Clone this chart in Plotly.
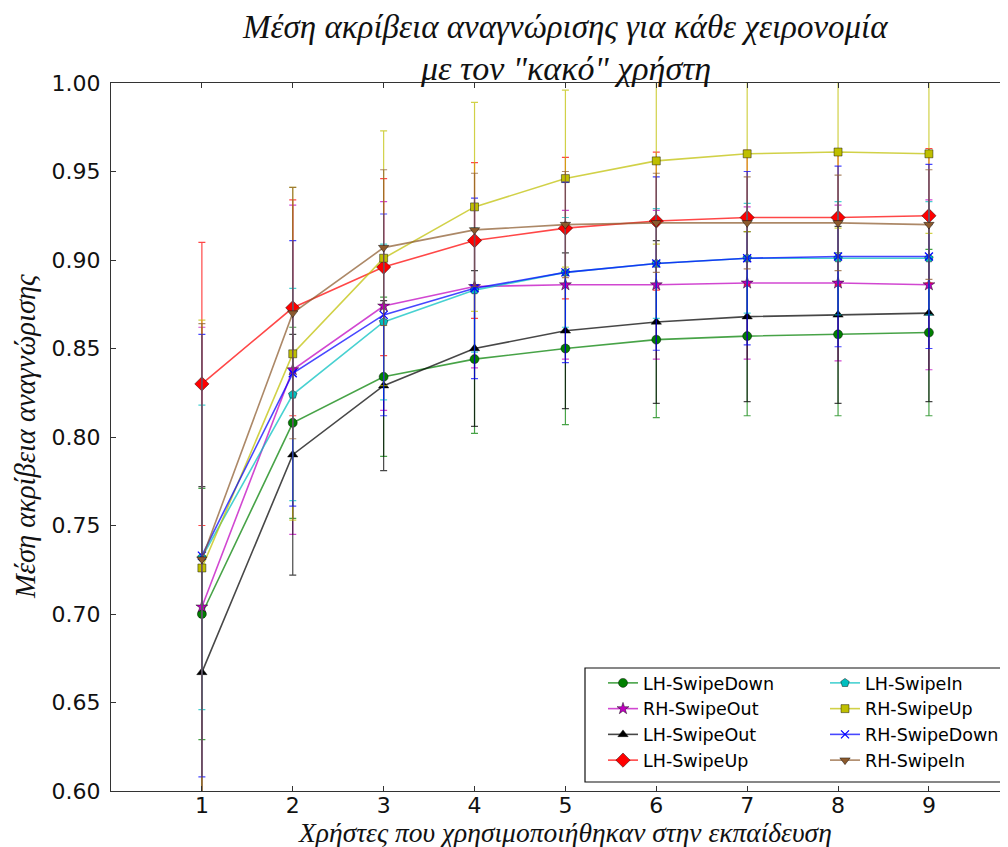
import plotly.graph_objects as go

users = [1, 2, 3, 4, 5, 6, 7, 8, 9]

lh_swipedown = [0.700, 0.808, 0.834, 0.844, 0.850, 0.855, 0.857, 0.858, 0.859]
lh_swipedown_err = [0.071, 0.054, 0.045, 0.042, 0.043, 0.044, 0.045, 0.046, 0.047]

rh_swipeout = [0.704, 0.838, 0.874, 0.885, 0.886, 0.886, 0.887, 0.887, 0.886]
rh_swipeout_err = [0.158, 0.093, 0.059, 0.046, 0.042, 0.042, 0.043, 0.044, 0.048]

lh_swipeout = [0.667, 0.790, 0.829, 0.850, 0.860, 0.865, 0.868, 0.869, 0.870]
lh_swipeout_err = [0.105, 0.068, 0.048, 0.044, 0.044, 0.046, 0.048, 0.050, 0.050]

lh_swipeup = [0.830, 0.873, 0.896, 0.911, 0.918, 0.922, 0.924, 0.924, 0.925]
lh_swipeup_err = [0.080, 0.061, 0.050, 0.044, 0.040, 0.039, 0.038, 0.038, 0.038]

lh_swipein = [0.732, 0.824, 0.865, 0.883, 0.893, 0.898, 0.901, 0.901, 0.901]
lh_swipein_err = [0.086, 0.060, 0.044, 0.035, 0.031, 0.031, 0.031, 0.032, 0.032]

rh_swipeup = [0.726, 0.847, 0.901, 0.930, 0.946, 0.956, 0.960, 0.961, 0.960]
rh_swipeup_err = [0.140, 0.094, 0.072, 0.059, 0.050, 0.047, 0.044, 0.043, 0.045]

rh_swipedown = [0.733, 0.836, 0.869, 0.884, 0.893, 0.898, 0.901, 0.902, 0.902]
rh_swipedown_err = [0.125, 0.075, 0.057, 0.051, 0.051, 0.049, 0.049, 0.051, 0.052]

rh_swipein = [0.731, 0.870, 0.907, 0.917, 0.920, 0.921, 0.921, 0.921, 0.920]
rh_swipein_err = [0.133, 0.071, 0.044, 0.032, 0.030, 0.028, 0.026, 0.027, 0.031]

y_ticks = [0.60, 0.65, 0.70, 0.75, 0.80, 0.85, 0.90, 0.95, 1.00]
x_ticks = [1, 2, 3, 4, 5, 6, 7, 8, 9]

title_line1 = "Μέση ακρίβεια αναγνώρισης για κάθε χειρονομία"
title_line2 = "με τον \"κακό\" χρήστη"
x_title = "Χρήστες που χρησιμοποιήθηκαν στην εκπαίδευση"
y_title = "Μέση ακρίβεια αναγνώρισης"

series = [
    ("LH-SwipeDown", lh_swipedown, lh_swipedown_err, (0, 128, 0), "circle", 9, "legend"),
    ("RH-SwipeOut", rh_swipeout, rh_swipeout_err, (191, 0, 191), "star", 9, "legend"),
    ("LH-SwipeOut", lh_swipeout, lh_swipeout_err, (0, 0, 0), "triangle-up", 9, "legend"),
    ("LH-SwipeUp", lh_swipeup, lh_swipeup_err, (255, 0, 0), "diamond", 11, "legend"),
    ("LH-SwipeIn", lh_swipein, lh_swipein_err, (0, 191, 191), "pentagon", 9, "legend2"),
    ("RH-SwipeUp", rh_swipeup, rh_swipeup_err, (191, 191, 0), "square", 8, "legend2"),
    ("RH-SwipeDown", rh_swipedown, rh_swipedown_err, (0, 0, 255), "x-thin", 8, "legend2"),
    ("RH-SwipeIn", rh_swipein, rh_swipein_err, (140, 90, 45), "triangle-down", 9, "legend2"),
]

fig = go.Figure()
for name, vals, errs, rgb, sym, size, leg in series:
    solid = "rgb(%d,%d,%d)" % rgb
    faded = "rgba(%d,%d,%d,0.72)" % rgb
    if sym == "x-thin":
        mline = dict(color=solid, width=1.3)
    else:
        mline = dict(color="rgba(0,0,0,0.55)", width=0.8)
    fig.add_trace(go.Scatter(
        x=users, y=vals, name=name, mode="lines+markers",
        line=dict(color=faded, width=1.6),
        marker=dict(symbol=sym, size=size, color=solid, line=mline),
        error_y=dict(type="data", array=errs, visible=True, color=faded, thickness=1.2, width=3.5),
        legend=leg,
    ))

# the page body adds an 8px offset; layout is specified in page pixels
OFF = 8
page_w, page_h = 1008, 847
plot_left, plot_right, plot_top, plot_bottom = 111, 1008, 83, 791
pw = plot_right - plot_left
ph = plot_bottom - plot_top

def px_x(p):
    return (p - plot_left) / pw

def px_y(p):
    return (plot_bottom - p) / ph

legend_common = dict(
    bgcolor="rgba(0,0,0,0)", borderwidth=0,
    font=dict(family="DejaVu Sans", size=17.5, color="#000"),
    yanchor="top", xanchor="left", tracegroupgap=0, orientation="v",
)

fig.update_layout(
    width=page_w - OFF, height=page_h - OFF,
    paper_bgcolor="white", plot_bgcolor="white",
    margin=dict(l=plot_left - OFF, r=page_w - plot_right, t=plot_top - OFF,
                b=page_h - plot_bottom, pad=0, autoexpand=False),
    showlegend=True,
    legend=dict(x=px_x(603), y=px_y(665), **legend_common),
    legend2=dict(x=px_x(825), y=px_y(665), **legend_common),
    xaxis=dict(
        range=[0, 9.87], tickvals=x_ticks, ticktext=[str(v) for v in x_ticks],
        ticks="inside", ticklen=5, tickcolor="#333", showline=True, linecolor="#333", linewidth=1.2,
        mirror="ticks", showgrid=False, zeroline=False, automargin=False,
        tickfont=dict(family="DejaVu Sans", size=22, color="#111"),
        ticklabelstandoff=-6,
    ),
    yaxis=dict(
        range=[0.60, 1.00], tickvals=y_ticks, ticktext=["%.2f" % v for v in y_ticks],
        ticks="inside", ticklen=5, tickcolor="#333", showline=True, linecolor="#333", linewidth=1.2,
        mirror="ticks", showgrid=False, zeroline=False, automargin=False,
        tickfont=dict(family="DejaVu Sans", size=22, color="#111"),
        ticklabelstandoff=5,
    ),
    shapes=[dict(
        type="rect", xref="paper", yref="paper",
        x0=px_x(585), x1=px_x(1020), y0=px_y(782), y1=px_y(668),
        line=dict(color="#111", width=1.2), fillcolor="white", layer="above",
    )],
    annotations=[
        dict(text=title_line1, xref="paper", yref="paper", x=px_x(565), y=px_y(27),
             xanchor="center", yanchor="middle", showarrow=False,
             font=dict(family="Liberation Serif", style="italic", size=33, color="#111")),
        dict(text=title_line2, xref="paper", yref="paper", x=px_x(565), y=px_y(69),
             xanchor="center", yanchor="middle", showarrow=False,
             font=dict(family="Liberation Serif", style="italic", size=34, color="#111")),
        dict(text=x_title, xref="paper", yref="paper", x=px_x(565), y=px_y(832),
             xanchor="center", yanchor="middle", showarrow=False,
             font=dict(family="Liberation Serif", style="italic", size=27.5, color="#111")),
        dict(text=y_title, xref="paper", yref="paper", x=px_x(25), y=px_y(437),
             xanchor="center", yanchor="middle", showarrow=False, textangle=-90,
             font=dict(family="Liberation Serif", style="italic", size=28.5, color="#111")),
    ],
)

fig.write_html("out.html")
